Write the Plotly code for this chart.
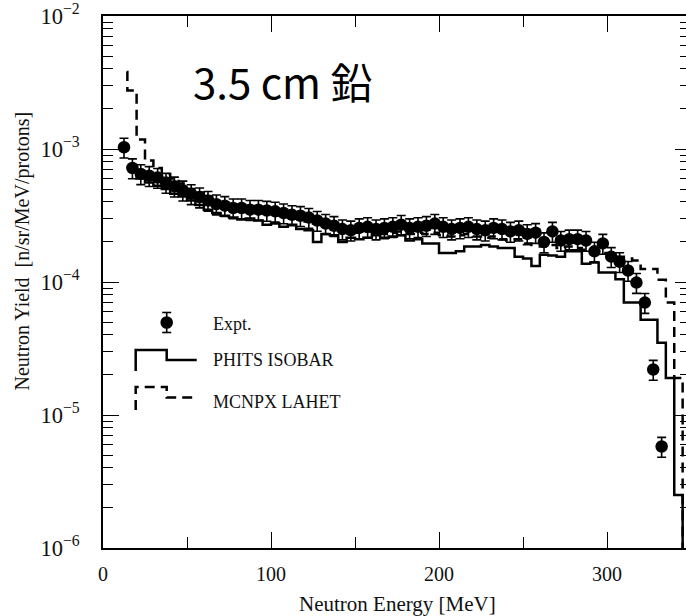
import plotly.graph_objects as go

# ---- measured neutron yield (Expt.) ----
expt_energy = [12.5, 17.5, 22.5, 27.5, 32.5, 37.5, 42.5, 47.5, 52.5, 57.5,
               62.5, 67.5, 72.5, 77.5, 82.5, 87.5, 92.5, 97.5, 102.5, 107.5,
               112.5, 117.5, 122.5, 127.5, 132.5, 137.5, 142.5, 147.5, 152.5, 157.5,
               162.5, 167.5, 172.5, 177.5, 182.5, 187.5, 192.5, 197.5, 202.5, 207.5,
               212.5, 217.5, 222.5, 227.5, 232.5, 237.5, 242.5, 247.5, 252.5, 257.5,
               262.5, 267.5, 272.5, 277.5, 282.5, 287.5, 292.5, 297.5, 302.5, 307.5,
               312.5, 317.5, 322.5, 327.5, 332.5]
expt_yield = [10.3e-4, 7.2e-4, 6.5e-4, 6.3e-4, 6.1e-4, 5.6e-4, 5.25e-4, 4.9e-4, 4.6e-4, 4.35e-4,
              4.1e-4, 3.85e-4, 3.75e-4, 3.6e-4, 3.6e-4, 3.5e-4, 3.5e-4, 3.45e-4, 3.4e-4, 3.3e-4,
              3.2e-4, 3.15e-4, 3.05e-4, 2.9e-4, 2.75e-4, 2.65e-4, 2.5e-4, 2.45e-4, 2.55e-4, 2.6e-4,
              2.5e-4, 2.55e-4, 2.6e-4, 2.7e-4, 2.55e-4, 2.6e-4, 2.65e-4, 2.75e-4, 2.6e-4, 2.5e-4,
              2.55e-4, 2.6e-4, 2.5e-4, 2.45e-4, 2.55e-4, 2.5e-4, 2.4e-4, 2.45e-4, 2.3e-4, 2.35e-4,
              2.0e-4, 2.4e-4, 2.05e-4, 2.1e-4, 2.1e-4, 2.05e-4, 1.7e-4, 1.95e-4, 1.55e-4, 1.42e-4,
              1.22e-4, 0.99e-4, 0.70e-4, 0.22e-4, 0.058e-4]
expt_err_percent = 17

# ---- PHITS ISOBAR histogram (bin edges and bin contents) ----
phits_edges = [15, 20, 25, 30, 35, 40, 45, 50, 55, 60, 65, 70, 75, 80, 85, 90, 95, 100,
               105, 110, 115, 120, 125, 130, 135, 140, 145, 150, 155, 160, 165, 170, 175,
               180, 185, 190, 195, 200, 205, 210, 215, 220, 225, 230, 235, 240, 245, 250,
               255, 260, 265, 270, 275, 280, 285, 290, 295, 300, 305, 310, 315, 320, 325,
               330, 335, 340, 345, 350]
phits_yield = [7.0e-4, 6.0e-4, 5.6e-4, 5.3e-4, 5.0e-4, 4.6e-4, 4.4e-4, 4.1e-4, 3.8e-4, 3.5e-4,
               3.3e-4, 3.15e-4, 3.05e-4, 2.95e-4, 3.0e-4, 2.9e-4, 2.7e-4, 2.75e-4, 2.6e-4, 2.7e-4,
               2.5e-4, 2.45e-4, 2.0e-4, 2.3e-4, 2.25e-4, 2.0e-4, 2.15e-4, 2.1e-4, 2.15e-4, 2.25e-4,
               2.15e-4, 2.2e-4, 2.25e-4, 2.05e-4, 2.1e-4, 1.95e-4, 1.95e-4, 1.65e-4, 1.65e-4, 1.7e-4,
               1.85e-4, 1.85e-4, 1.9e-4, 1.85e-4, 1.8e-4, 1.8e-4, 1.55e-4, 1.5e-4, 1.32e-4, 1.6e-4,
               1.58e-4, 1.55e-4, 1.7e-4, 1.7e-4, 1.37e-4, 1.40e-4, 1.18e-4, 1.18e-4, 1.05e-4, 0.70e-4,
               0.70e-4, 0.52e-4, 0.52e-4, 0.35e-4, 0.19e-4, 0.025e-4, 0.001e-4]

# ---- MCNPX LAHET histogram ----
mcnpx_edges = [14, 14.5, 20, 25, 30, 35, 40, 45, 50, 55, 60, 65, 70, 75, 80, 85, 90, 95, 100,
               105, 110, 115, 120, 125, 130, 135, 140, 145, 150, 155, 160, 165, 170, 175,
               180, 185, 190, 195, 200, 205, 210, 215, 220, 225, 230, 235, 240, 245, 250,
               255, 260, 265, 270, 275, 280, 285, 290, 295, 300, 305, 310, 315, 320, 325,
               330, 335, 340, 345, 350]
mcnpx_yield = [38e-4, 27.5e-4, 11.8e-4, 8.2e-4, 7.2e-4, 6.5e-4, 6.0e-4, 5.5e-4, 5.0e-4, 4.7e-4,
               4.4e-4, 4.1e-4, 3.9e-4, 3.7e-4, 3.6e-4, 3.5e-4, 3.4e-4, 3.3e-4, 3.25e-4, 3.15e-4,
               3.05e-4, 2.95e-4, 2.85e-4, 2.75e-4, 2.65e-4, 2.55e-4, 2.45e-4, 2.4e-4, 2.35e-4, 2.4e-4,
               2.35e-4, 2.3e-4, 2.35e-4, 2.4e-4, 2.3e-4, 2.35e-4, 2.3e-4, 2.35e-4, 2.25e-4, 2.2e-4,
               2.25e-4, 2.3e-4, 2.2e-4, 2.15e-4, 2.2e-4, 2.1e-4, 2.05e-4, 2.1e-4, 1.95e-4, 1.9e-4,
               1.85e-4, 1.9e-4, 1.8e-4, 1.85e-4, 1.8e-4, 1.75e-4, 1.7e-4, 1.65e-4, 1.6e-4, 1.55e-4,
               1.5e-4, 1.45e-4, 1.25e-4, 1.25e-4, 1.04e-4, 0.70e-4, 0.19e-4, 0.001e-4]

series_names = ["Expt.", "PHITS ISOBAR", "MCNPX LAHET"]
title_text = "3.5 cm 鉛"
x_title = "Neutron Energy [MeV]"
y_title = "Neutron Yield\u00a0 [n/sr/MeV/protons]"

W, H = 686, 616
ML, MR, MT, MB = 103, 0, 16, 68
PW, PH = W - ML - MR, H - MT - MB
SERIF = "Liberation Serif"
INK = "#111111"


def px_x(px):
    return (px - ML) / PW


def px_y(py):
    return (H - MB - py) / PH


def step_xy(edges, values):
    return list(edges), list(values) + [values[-1]]


fig = go.Figure()

hx, hy = step_xy(phits_edges, phits_yield)
fig.add_trace(go.Scatter(x=hx, y=hy, mode="lines", line_shape="hv",
                         line=dict(color="black", width=2.5),
                         name=series_names[1], showlegend=False))

mx, my = step_xy(mcnpx_edges, mcnpx_yield)
fig.add_trace(go.Scatter(x=mx, y=my, mode="lines", line_shape="hv",
                         line=dict(color="black", width=2.5, dash="10px,6px"),
                         name=series_names[2], showlegend=False))

fig.add_trace(go.Scatter(x=expt_energy, y=expt_yield, mode="markers",
                         marker=dict(symbol="circle", size=12.5, color="black"),
                         error_y=dict(type="percent", value=expt_err_percent,
                                      color="black", thickness=1.6, width=4.5),
                         name=series_names[0], showlegend=False))

# carrier for the right-hand tick axis
fig.add_trace(go.Scatter(x=[None], y=[None], yaxis="y2", showlegend=False,
                         hoverinfo="skip"))

# ---- hand-built legend keys ----
shapes = []
# Expt.: dot with error bar
cx, cy = 166.7, 322.5
shapes.append(dict(type="line", xref="paper", yref="paper",
                   x0=px_x(cx), x1=px_x(cx), y0=px_y(312.5), y1=px_y(332.5),
                   line=dict(color="black", width=1.6)))
for yy in (312.5, 332.5):
    shapes.append(dict(type="line", xref="paper", yref="paper",
                       x0=px_x(cx - 4.5), x1=px_x(cx + 4.5), y0=px_y(yy), y1=px_y(yy),
                       line=dict(color="black", width=1.6)))
shapes.append(dict(type="circle", xref="paper", yref="paper",
                   x0=px_x(cx - 6.3), x1=px_x(cx + 6.3), y0=px_y(cy - 6.3), y1=px_y(cy + 6.3),
                   fillcolor="black", line=dict(color="black", width=0)))


def step_key(y_low, y_high, y_mid, dash=None):
    path = "M {:.5f},{:.5f} L {:.5f},{:.5f} L {:.5f},{:.5f} L {:.5f},{:.5f} L {:.5f},{:.5f}".format(
        px_x(135.7), px_y(y_low), px_x(135.7), px_y(y_high),
        px_x(166.7), px_y(y_high), px_x(166.7), px_y(y_mid),
        px_x(196.7), px_y(y_mid))
    line = dict(color="black", width=2.5)
    if dash:
        line["dash"] = dash
    return dict(type="path", xref="paper", yref="paper", path=path, line=line)


shapes.append(step_key(371, 350, 360))
shapes.append(step_key(410, 387, 397.5, dash="10px,6px"))

annotations = [
    dict(text=series_names[0], x=px_x(211), y=px_y(324), xref="paper", yref="paper",
         xanchor="left", yanchor="middle", showarrow=False,
         font=dict(family=SERIF, size=18, color=INK)),
    dict(text=series_names[1], x=px_x(211), y=px_y(360), xref="paper", yref="paper",
         xanchor="left", yanchor="middle", showarrow=False,
         font=dict(family=SERIF, size=18, color=INK)),
    dict(text=series_names[2], x=px_x(211), y=px_y(402), xref="paper", yref="paper",
         xanchor="left", yanchor="middle", showarrow=False,
         font=dict(family=SERIF, size=18, color=INK)),
    dict(text=title_text, x=px_x(282), y=px_y(80), xref="paper", yref="paper",
         xanchor="center", yanchor="middle", showarrow=False,
         font=dict(family="Noto Sans CJK JP", size=42, color="black")),
    dict(text=x_title, x=px_x(397.5), y=px_y(604), xref="paper", yref="paper",
         xanchor="center", yanchor="middle", showarrow=False,
         font=dict(family=SERIF, size=21, color=INK)),
    dict(text=y_title, x=px_x(22), y=px_y(251.5), xref="paper", yref="paper",
         xanchor="center", yanchor="middle", showarrow=False, textangle=-90,
         font=dict(family=SERIF, size=20, color=INK)),
]

fig.update_layout(
    width=W, height=H,
    margin=dict(l=ML, r=MR, t=MT, b=MB),
    paper_bgcolor="white", plot_bgcolor="white",
    showlegend=False,
    shapes=shapes,
    annotations=annotations,
    xaxis=dict(
        range=[0, 347], dtick=100, tick0=0,
        ticks="inside", ticklen=16, tickwidth=1.3, tickcolor="black",
        minor=dict(ticks="inside", ticklen=11, dtick=50, tickwidth=1.3, tickcolor="black",
                   showgrid=False),
        showline=True, linecolor="black", linewidth=1.5, mirror="ticks",
        showgrid=False, zeroline=False,
        ticklabelstandoff=7,
        tickfont=dict(family=SERIF, size=20, color=INK),
    ),
    yaxis=dict(
        type="log", range=[-6, -2], dtick=1, exponentformat="power",
        ticks="inside", ticklen=16, tickwidth=1.3, tickcolor="black",
        minor=dict(ticks="inside", ticklen=10, dtick="D1", tickwidth=1.3, tickcolor="black",
                   showgrid=False),
        showline=True, linecolor="black", linewidth=1.5, mirror=False,
        showgrid=False, zeroline=False,
        ticklabelstandoff=18,
        tickfont=dict(family=SERIF, size=18, color=INK),
    ),
    yaxis2=dict(
        type="log", range=[-6, -2], dtick=1, overlaying="y", side="right", anchor="x",
        ticks="inside", ticklen=11, tickwidth=1.3, tickcolor="black",
        minor=dict(ticks="inside", ticklen=6, dtick="D1", tickwidth=1.3, tickcolor="black",
                   showgrid=False),
        showticklabels=False, showline=False, showgrid=False, zeroline=False,
    ),
)

fig.write_html("out.html")
